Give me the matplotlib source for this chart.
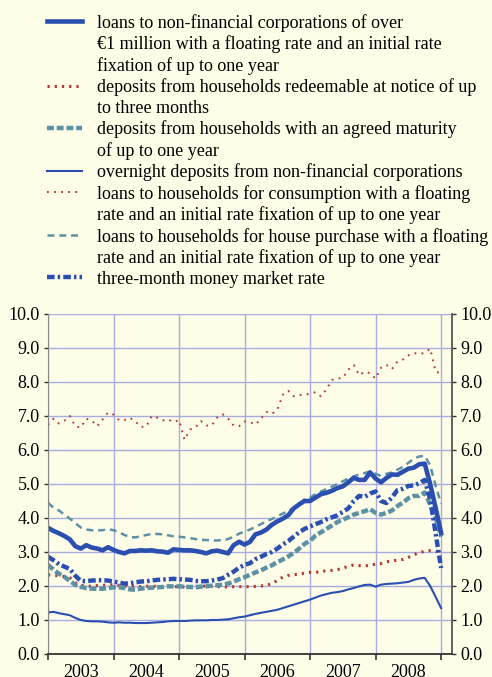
import numpy as np
import matplotlib
matplotlib.use("Agg")
import matplotlib.pyplot as plt
from matplotlib.lines import Line2D

plt.rcParams['font.family'] = ['Liberation Serif', 'DejaVu Serif']
plt.rcParams['lines.scale_dashes'] = False

# monthly observations, Jan 2003 onwards (percentages per annum)
years = ['2003', '2004', '2005', '2006', '2007', '2008']

nfc_loans_1m = [3.71, 3.62, 3.55, 3.47, 3.37, 3.17, 3.10, 3.20, 3.13, 3.10, 3.05, 3.14,
                3.06, 3.00, 2.96, 3.03, 3.03, 3.05, 3.04, 3.05, 3.02, 3.01, 2.98, 3.08,
                3.06, 3.05, 3.05, 3.03, 3.00, 2.96, 3.02, 3.04, 3.00, 2.96, 3.20, 3.30,
                3.22, 3.30, 3.52, 3.57, 3.66, 3.80, 3.90, 3.98, 4.08, 4.28, 4.40, 4.50,
                4.50, 4.60, 4.70, 4.74, 4.80, 4.88, 4.93, 5.05, 5.18, 5.12, 5.12, 5.34,
                5.16, 5.05, 5.18, 5.28, 5.27, 5.36, 5.45, 5.48, 5.58, 5.60, 5.00, 4.30,
                3.56]

hh_dep_notice = [2.33, 2.31, 2.30, 2.28, 2.24, 2.10, 2.02, 2.00, 1.99, 2.01, 2.02, 2.03,
                 2.04, 2.02, 2.00, 1.99, 2.00, 1.98, 1.99, 2.00, 1.98, 1.98, 1.99, 1.98,
                 1.98, 1.97, 1.96, 1.92, 1.99, 2.00, 1.99, 1.98, 1.98, 1.97, 1.98, 1.98,
                 1.98, 1.98, 1.99, 2.00, 2.02, 2.07, 2.16, 2.26, 2.31, 2.33, 2.35, 2.38,
                 2.40, 2.40, 2.42, 2.45, 2.46, 2.48, 2.52, 2.58, 2.62, 2.60, 2.59, 2.61,
                 2.64, 2.66, 2.71, 2.74, 2.76, 2.78, 2.84, 2.92, 2.98, 3.02, 3.04, 3.03,
                 2.98]

hh_dep_maturity = [2.62, 2.48, 2.36, 2.27, 2.15, 2.03, 1.97, 1.94, 1.92, 1.92, 1.92, 1.94,
                   1.96, 1.96, 1.94, 1.90, 1.89, 1.92, 1.94, 1.95, 1.96, 1.97, 1.99, 1.99,
                   1.99, 1.98, 1.97, 1.97, 1.98, 1.99, 2.01, 2.02, 2.04, 2.07, 2.13, 2.20,
                   2.26, 2.33, 2.40, 2.46, 2.54, 2.61, 2.70, 2.78, 2.87, 2.97, 3.10, 3.24,
                   3.33, 3.48, 3.58, 3.68, 3.78, 3.88, 3.95, 4.02, 4.10, 4.15, 4.20, 4.26,
                   4.15, 4.10, 4.15, 4.22, 4.35, 4.45, 4.58, 4.65, 4.65, 4.75, 4.40, 4.00,
                   3.45]

nfc_overnight = [1.22, 1.24, 1.20, 1.17, 1.14, 1.06, 1.00, 0.97, 0.96, 0.96, 0.95, 0.93,
                 0.92, 0.93, 0.92, 0.92, 0.91, 0.91, 0.91, 0.92, 0.93, 0.94, 0.96, 0.97,
                 0.97, 0.97, 0.98, 0.99, 0.99, 0.99, 1.00, 1.00, 1.01, 1.02, 1.05, 1.08,
                 1.10, 1.14, 1.18, 1.21, 1.24, 1.27, 1.30, 1.35, 1.40, 1.45, 1.50, 1.55,
                 1.60, 1.66, 1.72, 1.76, 1.80, 1.82, 1.85, 1.90, 1.94, 1.99, 2.03, 2.04,
                 1.98, 2.04, 2.06, 2.07, 2.08, 2.10, 2.12, 2.18, 2.22, 2.24, 2.00, 1.68,
                 1.35]

hh_consumption = [6.74, 6.92, 6.78, 6.86, 7.00, 6.70, 6.66, 6.92, 6.87, 6.70, 6.90, 7.10,
                  7.04, 6.88, 6.88, 6.95, 6.84, 6.68, 6.69, 7.00, 6.95, 6.87, 6.90, 6.82,
                  6.88, 6.30, 6.60, 6.66, 6.85, 6.72, 6.72, 6.96, 7.05, 6.92, 6.72, 6.70,
                  6.84, 6.82, 6.75, 6.92, 7.12, 7.06, 7.18, 7.62, 7.74, 7.58, 7.62, 7.62,
                  7.66, 7.70, 7.58, 7.78, 8.06, 8.10, 8.12, 8.36, 8.50, 8.20, 8.30, 8.26,
                  8.10, 8.42, 8.50, 8.38, 8.60, 8.66, 8.78, 8.85, 8.83, 8.85, 8.98, 8.30,
                  8.26]

hh_house = [4.45, 4.30, 4.22, 4.10, 3.98, 3.85, 3.72, 3.66, 3.64, 3.64, 3.64, 3.67,
            3.64, 3.58, 3.50, 3.44, 3.43, 3.46, 3.50, 3.53, 3.53, 3.52, 3.49, 3.46,
            3.45, 3.43, 3.41, 3.38, 3.36, 3.35, 3.34, 3.34, 3.35, 3.38, 3.45, 3.54,
            3.60, 3.66, 3.74, 3.82, 3.90, 3.97, 4.05, 4.13, 4.20, 4.30, 4.40, 4.55,
            4.60, 4.70, 4.78, 4.85, 4.92, 5.00, 5.08, 5.16, 5.22, 5.28, 5.32, 5.37,
            5.30, 5.24, 5.30, 5.34, 5.42, 5.50, 5.62, 5.74, 5.81, 5.83, 5.55, 4.95,
            4.42]

mm_3m = [2.86, 2.76, 2.64, 2.57, 2.50, 2.30, 2.15, 2.14, 2.16, 2.17, 2.17, 2.16,
         2.13, 2.10, 2.07, 2.08, 2.11, 2.13, 2.14, 2.16, 2.18, 2.19, 2.20, 2.21,
         2.20, 2.19, 2.18, 2.15, 2.14, 2.14, 2.16, 2.19, 2.23, 2.33, 2.42, 2.54,
         2.62, 2.67, 2.79, 2.86, 2.94, 3.00, 3.10, 3.22, 3.32, 3.45, 3.58, 3.68,
         3.75, 3.82, 3.88, 3.96, 4.02, 4.08, 4.18, 4.28, 4.50, 4.65, 4.62, 4.72,
         4.78, 4.50, 4.44, 4.60, 4.82, 4.86, 4.94, 4.96, 5.02, 5.12, 4.55, 3.55,
         2.53]

months = np.arange(len(nfc_loans_1m))

bg = '#fdfde8'
blue = '#2b4fb0'
red = '#b43a2e'
teal = '#5d92a4'
grid = '#a8acdf'

# line styles shared by plot and legend
st_loans = dict(color=blue, lw=3.3)
st_notice = dict(color=red, lw=2.2, dashes=(1.6, 3.6))
st_maturity = dict(color=teal, lw=3.2, dashes=(5, 2))
st_overnight = dict(color=blue, lw=1.5)
st_consumption = dict(color=red, lw=1.4, dashes=(1.3, 3.8))
st_house = dict(color=teal, lw=1.8, dashes=(5, 3.5))
st_mm = dict(color=blue, lw=3.2, dashes=(5.5, 2.2, 1.8, 2.2))

fig = plt.figure(figsize=(4.92, 6.77), dpi=100, facecolor=bg)
ax = fig.add_axes([0.0976, 0.034, 0.8211, 0.5022], facecolor=bg)

ax.plot(months, hh_house, **st_house)
ax.plot(months, hh_consumption, **st_consumption)
ax.plot(months, hh_dep_notice, **st_notice)
ax.plot(months, hh_dep_maturity, **st_maturity)
ax.plot(months, mm_3m, **st_mm)
ax.plot(months, nfc_overnight, **st_overnight)
ax.plot(months, nfc_loans_1m, **st_loans)

ax.set_xlim(0, 74)
ax.set_ylim(0, 10)
ax.set_yticks(np.arange(0, 11, 1))
ax.set_yticklabels(['%.1f' % v for v in np.arange(0, 11, 1)])
ax.set_xticks(np.arange(0, 73, 12))
ax.set_xticklabels([])
ax.set_xticks(np.arange(6, 72, 12), minor=True)
ax.set_xticklabels(years, minor=True)
ax.tick_params(axis='x', which='major', length=4, width=1.2, color='#333333', direction='out')
ax.tick_params(axis='x', which='minor', length=0, pad=7, labelsize=13)
ax.tick_params(axis='y', which='both', left=True, right=True, labelleft=True, labelright=True,
               length=3, width=1, color='#333333', labelsize=13, pad=3)
ax.grid(True, which='major', color=grid, lw=1.0)
ax.set_axisbelow(True)

ax.spines['top'].set_visible(False)
ax.spines['left'].set_color('#888888')
ax.spines['right'].set_color('#555555')
ax.spines['right'].set_linewidth(1.3)
ax.spines['bottom'].set_color('#333333')
ax.spines['bottom'].set_linewidth(1.3)

# legend, one row per printed line
blank = Line2D([], [], linestyle='none')
handles = [
    Line2D([], [], **st_loans), blank, blank,
    Line2D([], [], **st_notice), blank,
    Line2D([], [], **st_maturity), blank,
    Line2D([], [], **st_overnight),
    Line2D([], [], **st_consumption), blank,
    Line2D([], [], **st_house), blank,
    Line2D([], [], **st_mm),
]
labels = [
    'loans to non-financial corporations of over',
    '€1 million with a floating rate and an initial rate',
    'fixation of up to one year',
    'deposits from households redeemable at notice of up',
    'to three months',
    'deposits from households with an agreed maturity',
    'of up to one year',
    'overnight deposits from non-financial corporations',
    'loans to households for consumption with a floating',
    'rate and an initial rate fixation of up to one year',
    'loans to households for house purchase with a floating',
    'rate and an initial rate fixation of up to one year',
    'three-month money market rate',
]
fig.legend(handles, labels, loc='upper left', bbox_to_anchor=(0.088, 0.985),
           frameon=False, fontsize=13, handlelength=1.94, handletextpad=0.83,
           labelspacing=0.2, borderaxespad=0, borderpad=0.2)

fig.savefig('out.png', dpi=100, facecolor=bg)
